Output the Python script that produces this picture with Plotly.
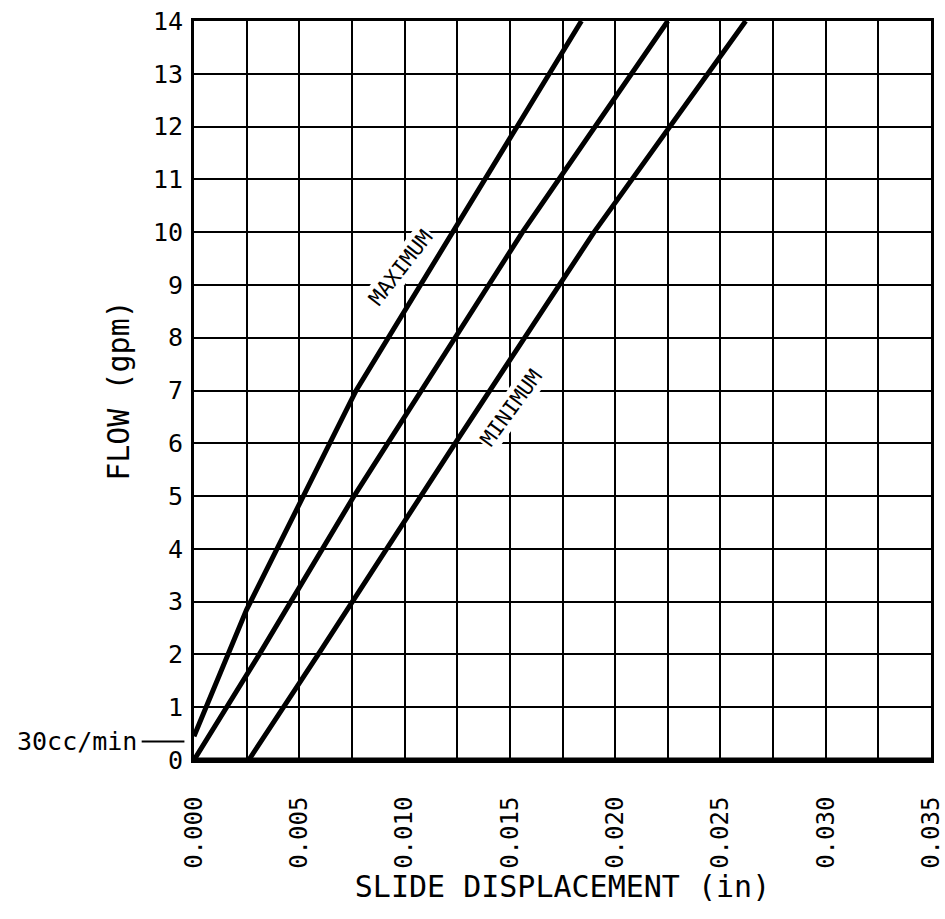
import plotly.graph_objects as go

# Data (x: slide displacement in inches, y: flow in gpm)
max_x = [0.0, 0.0025, 0.0077, 0.0184]
max_y = [0.45, 2.85, 7.0, 14.0]

mid_x = [0.0, 0.0031, 0.0076, 0.0156, 0.0225]
mid_y = [0.0, 2.0, 5.0, 10.0, 14.0]

min_x = [0.0026, 0.0059, 0.0124, 0.0190, 0.0262]
min_y = [0.0, 2.0, 6.0, 10.0, 14.0]

x_tickvals = [0.0, 0.005, 0.010, 0.015, 0.020, 0.025, 0.030, 0.035]
x_ticktext = ["0.000", "0.005", "0.010", "0.015", "0.020", "0.025", "0.030", "0.035"]
y_tickvals = list(range(0, 15))

FONT = "DejaVu Sans Mono"

fig = go.Figure()
line_style = dict(color="black", width=5)
fig.add_trace(go.Scatter(x=max_x, y=max_y, mode="lines", line=line_style, name="MAXIMUM", showlegend=False))
fig.add_trace(go.Scatter(x=mid_x, y=mid_y, mode="lines", line=line_style, name="NOMINAL", showlegend=False))
fig.add_trace(go.Scatter(x=min_x, y=min_y, mode="lines", line=line_style, name="MINIMUM", showlegend=False))

fig.update_layout(
    width=945, height=919,
    margin=dict(l=194, r=14, t=21, b=159),
    plot_bgcolor="white", paper_bgcolor="white",
    font=dict(family=FONT, color="black"),
    showlegend=False,
)

fig.update_xaxes(
    range=[0, 0.035], automargin=False,
    tickmode="array", tickvals=x_tickvals, ticktext=x_ticktext,
    tickangle=-90, tickfont=dict(size=24, family=FONT),
    ticks="", ticklabelstandoff=24, ticklabeloverflow="allow",
    showgrid=True, gridcolor="black", gridwidth=2,
    minor=dict(dtick=0.0025, tick0=0, showgrid=True, gridcolor="black", gridwidth=2),
    showline=True, linecolor="black", linewidth=3, mirror=True,
    zeroline=False,
    title=dict(text="SLIDE DISPLACEMENT (in)", font=dict(size=30, family=FONT), standoff=4),
)
fig.update_yaxes(
    range=[0, 14], automargin=False,
    tickmode="array", tickvals=y_tickvals,
    tickfont=dict(size=25, family=FONT),
    ticks="", ticklabelstandoff=3, ticklabeloverflow="allow",
    showgrid=True, gridcolor="black", gridwidth=2,
    showline=True, linecolor="black", linewidth=3, mirror=True,
    zeroline=False,
    title=dict(text="FLOW (gpm)", font=dict(size=30, family=FONT), standoff=15),
)

# thicker bottom axis
fig.add_shape(type="line", xref="paper", yref="paper", x0=0, x1=1, y0=0, y1=0,
              line=dict(color="black", width=5))

# 30cc/min marker
fig.add_shape(type="line", xref="paper", yref="y", x0=-0.071, x1=-0.013, y0=0.35, y1=0.35,
              line=dict(color="black", width=2))
fig.add_annotation(text="30cc/min", xref="paper", yref="y", x=-0.074, y=0.35,
                   xanchor="right", yanchor="middle", showarrow=False,
                   font=dict(size=25, family=FONT, color="black"))

# curve labels
fig.add_annotation(text="MAXIMUM", x=0.0098, y=9.33, showarrow=False, textangle=-52,
                   font=dict(size=21, family=FONT, color="black"), bgcolor="white", borderpad=1)
fig.add_annotation(text="MINIMUM", x=0.01506, y=6.67, showarrow=False, textangle=-54,
                   font=dict(size=21, family=FONT, color="black"), bgcolor="white", borderpad=1)

# remove the default page margin so the figure fills the 945x919 window exactly
fig.write_html("out.html", config={"displayModeBar": False},
               post_script="document.body.style.margin='0px';document.body.style.overflow='hidden';")
